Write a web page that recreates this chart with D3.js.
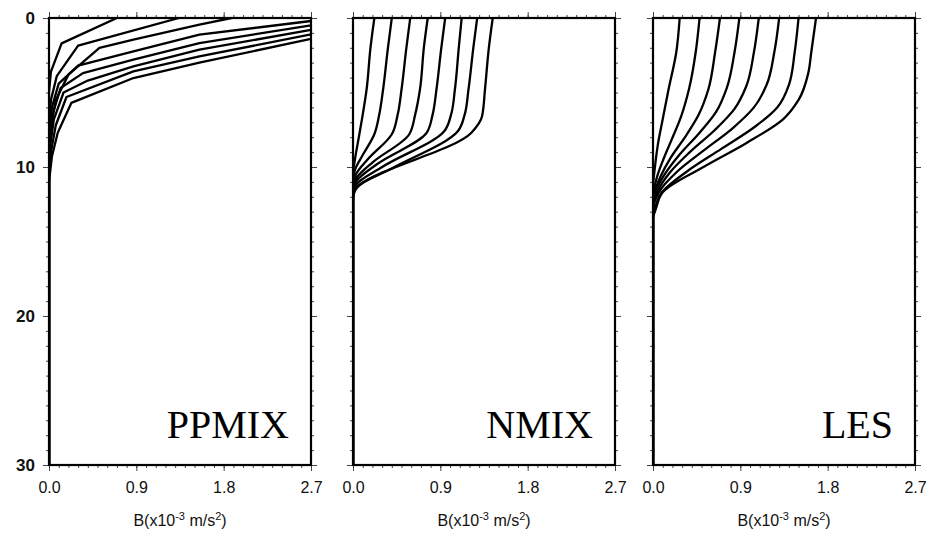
<!DOCTYPE html>
<html>
<head>
<meta charset="utf-8">
<script src="https://cdn.jsdelivr.net/npm/d3@7"></script>
<style>
  html, body { margin: 0; padding: 0; background: #fff; }
  svg { display: block; }
  .tick text { font-family: "Liberation Sans", Arial, sans-serif; fill: #111; }
</style>
</head>
<body>
<svg id="chart" width="930" height="533"></svg>
<script>
// Buoyancy profiles B (x10^-3 m/s^2) against depth, one family of curves per mixing scheme.
const panelNames = ["PPMIX", "NMIX", "LES"];
const depthTickLabels = [0, 10, 20, 30];
const bTickLabels = [0.0, 0.9, 1.8, 2.7];

// Each profile: [B, depth] pairs, surface first.
const ppmixProfiles = [
  [[0.70,0],[0.13,1.7],[0.02,3.6],[0,5],[0,30]],
  [[1.34,0],[0.30,1.85],[0.08,3.9],[0.02,5.5],[0,7.5],[0,30]],
  [[1.88,0],[1.55,0.45],[0.87,1.45],[0.52,2.0],[0.20,3.8],[0.07,5.5],[0.02,7.3],[0,9],[0,30]],
  [[2.95,0],[2.7,0.2],[1.55,1.12],[0.87,2.24],[0.30,3.2],[0.10,4.4],[0.03,6.0],[0,8.5],[0,30]],
  [[3.20,0],[2.7,0.5],[1.55,1.68],[0.87,2.8],[0.35,3.7],[0.12,4.7],[0.04,6.4],[0.01,8.3],[0,9.5],[0,30]],
  [[3.40,0],[2.7,0.8],[1.55,2.13],[0.87,3.25],[0.40,4.2],[0.15,5.0],[0.05,6.8],[0.01,8.7],[0,10],[0,30]],
  [[3.55,0],[2.7,1.1],[1.55,2.58],[0.87,3.58],[0.18,5.3],[0.07,7.2],[0.02,9.0],[0,10.5],[0,30]],
  [[3.70,0],[2.7,1.4],[1.55,3.0],[0.87,4.03],[0.23,5.7],[0.09,7.7],[0.03,9.3],[0,11],[0,30]]
];

const nmixProfiles = [
  [[0.22,0],[0.18,2],[0.14,4.8],[0.10,6.5],[0.06,8],[0.02,9.5],[0,10.5],[0,30]],
  [[0.40,0],[0.36,2],[0.31,4.8],[0.27,6.5],[0.22,7.8],[0.10,9.2],[0.02,10.2],[0,11],[0,30]],
  [[0.59,0],[0.55,2],[0.50,4.8],[0.46,6.5],[0.40,7.8],[0.15,9.5],[0.03,10.5],[0,11.2],[0,30]],
  [[0.77,0],[0.73,2],[0.69,4.8],[0.64,6.5],[0.58,7.8],[0.20,9.7],[0.03,10.8],[0,11.5],[0,30]],
  [[0.95,0],[0.91,2],[0.86,4.8],[0.82,6.5],[0.76,7.7],[0.25,9.8],[0.03,11],[0,11.7],[0,30]],
  [[1.12,0],[1.09,2],[1.05,4.8],[1.01,6.5],[0.94,7.6],[0.30,10],[0.03,11.2],[0,11.8],[0,30]],
  [[1.28,0],[1.24,2],[1.19,4.8],[1.15,6.5],[1.08,7.6],[0.40,10.1],[0.03,11.4],[0,12],[0,30]],
  [[1.44,0],[1.40,2],[1.36,4.8],[1.33,6.6],[1.22,7.7],[0.02,11.6],[0,12.2],[0,30]]
];

const lesProfiles = [
  [[0.275,0],[0.24,2.3],[0.16,4.8],[0.10,6.8],[0.05,8.5],[0.02,10],[0,11.5],[0,30]],
  [[0.48,0],[0.44,2.3],[0.37,4.8],[0.29,6.6],[0.19,8.2],[0.10,9.6],[0.04,10.7],[0,12],[0,30]],
  [[0.69,0],[0.64,2.3],[0.57,4.8],[0.47,6.5],[0.33,8.0],[0.18,9.4],[0.08,10.6],[0.02,11.6],[0,12.4],[0,30]],
  [[0.89,0],[0.84,2.3],[0.76,4.7],[0.65,6.3],[0.48,7.7],[0.27,9.2],[0.12,10.5],[0.03,11.6],[0,12.6],[0,30]],
  [[1.09,0],[1.04,2.3],[0.96,4.6],[0.84,6.1],[0.64,7.5],[0.38,9.0],[0.17,10.4],[0.05,11.6],[0,12.8],[0,30]],
  [[1.30,0],[1.25,2.3],[1.17,4.5],[1.04,6.0],[0.82,7.4],[0.52,8.9],[0.25,10.3],[0.06,11.7],[0,13],[0,30]],
  [[1.50,0],[1.46,2.3],[1.40,4.5],[1.28,6.0],[1.05,7.3],[0.70,8.8],[0.35,10.3],[0.08,11.8],[0.02,12.8],[0,13.3],[0,30]],
  [[1.68,0],[1.63,2.35],[1.60,3.7],[1.50,5.5],[1.34,6.8],[0.96,8.4],[0.52,10.0],[0.10,11.7],[0.03,12.8],[0,13.5],[0,30]]
];

const profileSets = [ppmixProfiles, nmixProfiles, lesProfiles];

const svg = d3.select("#chart");
const plotTop = 18, plotBottom = 465;
const panelLeft = [49, 353, 653];
const panelWidth = 262;

const y = d3.scaleLinear().domain([0, 30]).range([plotTop, plotBottom]);
const minorB = d3.range(0, 28).map(i => +(i * 0.1).toFixed(1));
const minorDepth = d3.range(0, 31);

panelNames.forEach((name, p) => {
  const x0 = panelLeft[p];
  const x = d3.scaleLinear().domain([0, 2.7]).range([x0, x0 + panelWidth]);
  const g = svg.append("g");

  const clipId = "clip" + p;
  svg.append("clipPath").attr("id", clipId)
    .append("rect").attr("x", x0).attr("y", plotTop).attr("width", panelWidth).attr("height", plotBottom - plotTop);

  // minor and major ticks on all four sides, pointing outwards
  const tickStyle = sel => {
    sel.select(".domain").remove();
    sel.selectAll(".tick line").attr("stroke", "#444").attr("stroke-width", 1);
  };
  g.append("g").attr("transform", `translate(0,${plotTop})`)
    .call(d3.axisTop(x).tickValues(minorB).tickSize(3).tickFormat("")).call(tickStyle);
  g.append("g").attr("transform", `translate(0,${plotTop})`)
    .call(d3.axisTop(x).tickValues(bTickLabels).tickSize(6).tickFormat("")).call(tickStyle);
  g.append("g").attr("transform", `translate(0,${plotBottom})`)
    .call(d3.axisBottom(x).tickValues(minorB).tickSize(3).tickFormat("")).call(tickStyle);
  const xAxis = g.append("g").attr("transform", `translate(0,${plotBottom})`)
    .call(d3.axisBottom(x).tickValues(bTickLabels).tickSize(6).tickPadding(11).tickFormat(d3.format(".1f")))
    .call(tickStyle);
  xAxis.selectAll(".tick text").attr("font-size", 16);

  g.append("g").attr("transform", `translate(${x0},0)`)
    .call(d3.axisLeft(y).tickValues(minorDepth).tickSize(3).tickFormat("")).call(tickStyle);
  const yAxis = g.append("g").attr("transform", `translate(${x0},0)`)
    .call(d3.axisLeft(y).tickValues(depthTickLabels).tickSize(6).tickPadding(8)
      .tickFormat(p === 0 ? d3.format("d") : ""))
    .call(tickStyle);
  yAxis.selectAll(".tick text").attr("font-size", 17).attr("font-weight", "bold").attr("fill", "#222");
  g.append("g").attr("transform", `translate(${x0 + panelWidth},0)`)
    .call(d3.axisRight(y).tickValues(minorDepth).tickSize(3).tickFormat("")).call(tickStyle);
  g.append("g").attr("transform", `translate(${x0 + panelWidth},0)`)
    .call(d3.axisRight(y).tickValues(depthTickLabels).tickSize(6).tickFormat("")).call(tickStyle);

  // profiles
  const line = d3.line()
    .x(d => x(d[0]))
    .y(d => y(d[1]))
    .curve(p === 0 ? d3.curveLinear : d3.curveMonotoneY);
  g.append("g").attr("clip-path", `url(#${clipId})`)
    .selectAll("path").data(profileSets[p]).join("path")
    .attr("d", line)
    .attr("fill", "none")
    .attr("stroke", "#000")
    .attr("stroke-width", 2.3)
    .attr("stroke-linejoin", "round");

  // frame
  g.append("rect")
    .attr("x", x0).attr("y", plotTop)
    .attr("width", panelWidth).attr("height", plotBottom - plotTop)
    .attr("fill", "none").attr("stroke", "#000").attr("stroke-width", 2.2);

  // scheme name
  g.append("text")
    .attr("x", x0 + panelWidth - 22).attr("y", 438)
    .attr("text-anchor", "end")
    .attr("font-family", "'Liberation Serif', 'Times New Roman', serif")
    .attr("font-size", 40)
    .attr("fill", "#000")
    .text(name);

  // x-axis title
  const title = g.append("text")
    .attr("x", x0 + panelWidth / 2).attr("y", 526)
    .attr("text-anchor", "middle")
    .attr("font-family", "'Liberation Sans', Arial, sans-serif")
    .attr("font-size", 16)
    .attr("fill", "#111");
  title.append("tspan").text("B(x10");
  title.append("tspan").attr("dy", -6).attr("font-size", 11).text("-3");
  title.append("tspan").attr("dy", 6).text(" m/s");
  title.append("tspan").attr("dy", -6).attr("font-size", 11).text("2");
  title.append("tspan").attr("dy", 6).text(")");
});
</script>
</body>
</html>
